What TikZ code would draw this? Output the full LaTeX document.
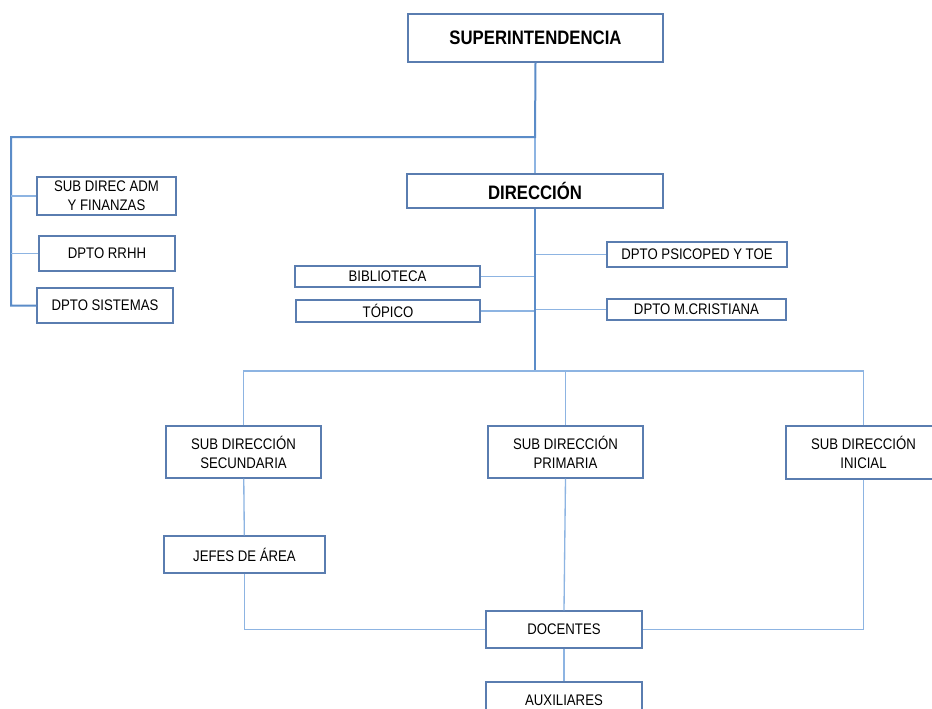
\documentclass[tikz,border=0pt]{standalone}
\usepackage{fontspec}
\setmainfont{Liberation Sans}[FakeStretch=0.86]
\usetikzlibrary{positioning}
\definecolor{boxline}{HTML}{5A7DB0}
\definecolor{linkline}{HTML}{8DB4E2}
\definecolor{trunkline}{HTML}{5B8CC8}

\begin{document}
\begin{tikzpicture}[x=0.75pt, y=-0.75pt,
  font=\fontsize{11.5}{14.3}\selectfont,
  unit/.style 2 args={draw=boxline, line width=1.1pt, fill=white, align=center, inner sep=0pt,
    minimum width=#1*0.75pt, minimum height=#2*0.75pt},
  head/.style={font=\fontsize{14.6}{16}\selectfont\bfseries},
  link/.style={draw=linkline, line width=1pt},
  trunk/.style={draw=trunkline, line width=1.5pt}]
  \fill[white] (0,0) rectangle (932,708);
  \clip (0,0) rectangle (932,708);
  % top levels
  \node[unit={255}{48}, head] (super) at (535.5,38) {SUPERINTENDENCIA};
  \node[unit={256}{34}, head] (dir) at (535,191) {DIRECCIÓN};
  % administration side
  \node[unit={139}{38}] (adm) at (106.5,196) {SUB DIREC ADM\\Y FINANZAS};
  \node[unit={136}{35}] (rrhh) at (107,253.5) {DPTO RRHH};
  \node[unit={136}{35}] (sis) at (105,305.5) {DPTO SISTEMAS};
  % direction staff
  \node[unit={185}{21}] (bib) at (387.5,276.5) {BIBLIOTECA};
  \node[unit={184}{22}] (top) at (388,311) {TÓPICO};
  \node[unit={180}{25}] (psi) at (697,254.5) {DPTO PSICOPED Y TOE};
  \node[unit={179}{21}] (mcr) at (696.5,309.5) {DPTO M.CRISTIANA};
  % sub directions
  \node[unit={155}{52}] (sec) at (243.5,452) {SUB DIRECCIÓN\\SECUNDARIA};
  \node[unit={155}{52}] (pri) at (565.5,452) {SUB DIRECCIÓN\\PRIMARIA};
  \node[unit={155}{53}] (ini) at (863.5,452.5) {SUB DIRECCIÓN\\INICIAL};
  \node[unit={161}{37}] (jef) at (244.5,554.5) {JEFES DE ÁREA};
  \node[unit={156}{37}] (doc) at (564,629.5) {DOCENTES};
  \node[unit={156}{37}] (aux) at (564,700.5) {AUXILIARES};
  % junctions
  \coordinate (jtop) at (535,137);
  \coordinate (jleft) at (11,137);
  \coordinate (jmid) at (535,371);
  % connectors
  \draw[link] (jtop) -- (dir.north);
  \draw[trunk] (super.south) -- (jtop) -- (jleft) |- (sis.west);
  \draw[link] (jleft |- adm.west) -- (adm.west);
  \draw[link] (jleft |- rrhh.west) -- (rrhh.west);
  \draw[link] (dir.south |- psi.west) -- (psi.west);
  \draw[link] (dir.south |- bib.east) -- (bib.east);
  \draw[link] (dir.south |- top.east) -- (top.east);
  \draw[link] (dir.south |- mcr.west) -- (mcr.west);
  \draw[trunk] (dir.south) -- (jmid);
  \draw[link] (sec.north) |- (ini.north |- jmid) -- (ini.north);
  \draw[link] (jmid -| pri.north) -- (pri.north);
  \draw[link] (sec) -- (jef);
  \draw[link] (jef.south) |- (doc.west);
  \draw[link] (pri.south) -- (doc.north);
  \draw[link] (ini.south) |- (doc.east);
  \draw[link] (doc) -- (aux);
\end{tikzpicture}
\end{document}
